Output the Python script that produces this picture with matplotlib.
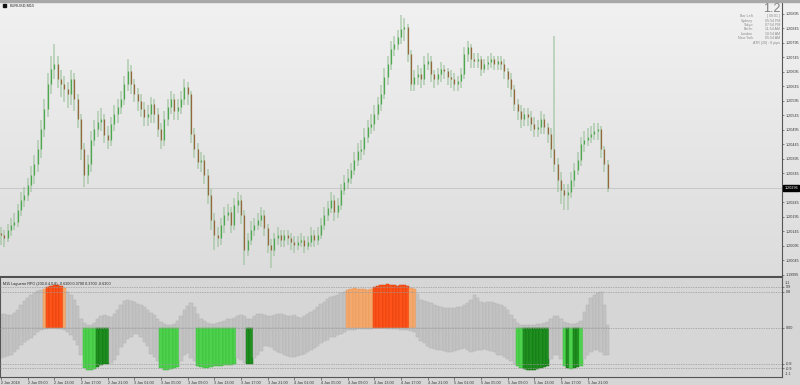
import matplotlib
matplotlib.use("Agg")
import matplotlib.pyplot as plt
import numpy as np
from matplotlib.colors import LinearSegmentedColormap

plt.rcParams['font.family'] = ['Liberation Sans', 'DejaVu Sans']

# EURUSD 30-minute bars from 2 Jan 2018 05:00, prices in pips above 1.20000
close_pips = [13.3, 12.3, 15.1, 16.8, 17.8, 22.0, 25.5, 27.2, 30.6, 34.1,
              37.6, 42.8, 49.7, 56.6, 65.2, 70.4, 72.2, 67.0, 65.2, 63.5,
              61.8, 67.0, 60.1, 53.1, 42.8, 34.1, 37.6, 46.2, 49.7, 52.4,
              53.1, 47.9, 46.2, 51.4, 54.9, 57.3, 60.1, 65.2, 69.7, 65.2,
              61.8, 59.4, 56.6, 53.8, 54.9, 58.3, 54.9, 49.7, 46.2, 53.1,
              57.3, 60.1, 55.9, 57.3, 60.1, 64.2, 61.8, 48.0, 42.8, 38.6,
              39.3, 34.1, 27.2, 18.5, 13.3, 12.3, 16.8, 20.3, 21.3, 16.8,
              23.7, 25.5, 20.3, 8.2, 11.6, 15.1, 16.8, 18.5, 20.3, 15.8,
              9.9, 8.2, 12.3, 13.3, 11.6, 13.3, 12.3, 10.9, 9.9, 10.9,
              11.6, 9.5, 10.9, 13.3, 11.6, 13.3, 16.8, 20.3, 22.7, 25.5,
              21.3, 23.7, 28.9, 31.7, 33.1, 35.8, 39.3, 42.1, 42.8, 46.9,
              50.4, 51.4, 54.9, 58.3, 61.8, 67.7, 72.2, 77.4, 79.1, 81.5,
              84.3, 85.0, 75.6, 65.2, 67.7, 68.7, 67.0, 72.2, 73.2, 68.7,
              67.0, 68.7, 70.4, 69.7, 67.7, 67.0, 65.2, 66.2, 68.7, 75.6,
              78.1, 73.9, 73.2, 73.9, 70.4, 72.2, 72.8, 73.9, 72.2, 73.2,
              72.2, 69.7, 67.0, 63.5, 58.3, 55.9, 53.1, 54.9, 53.8, 51.4,
              49.7, 50.4, 53.1, 50.4, 48.0, 42.8, 37.6, 32.4, 28.9, 27.2,
              28.2, 32.4, 35.8, 39.3, 44.5, 46.2, 46.9, 48.0, 49.0, 49.7,
              42.8, 37.6, 29.6]
high_pips = [16, 15, 17, 19, 21, 24, 28, 30, 33, 37,
             41, 46, 53, 60, 69, 75, 79, 75, 70, 68,
             66, 70, 69, 62, 55, 45, 41, 49, 53, 56,
             57, 55, 51, 54, 58, 60, 63, 68, 74, 72,
             67, 64, 62, 59, 58, 61, 60, 57, 52, 56,
             60, 63, 62, 60, 63, 67, 66, 63, 50, 45,
             42, 41, 36, 29, 21, 16, 19, 23, 24, 23,
             26, 28, 27, 22, 14, 18, 19, 21, 23, 22,
             17, 12, 14, 16, 15, 15, 15, 14, 13, 13,
             14, 13, 13, 16, 15, 16, 19, 23, 25, 28,
             27, 26, 31, 34, 36, 38, 42, 45, 46, 50,
             53, 55, 58, 61, 65, 71, 75, 80, 82, 84,
             89, 88, 86, 77, 70, 72, 71, 75, 76, 75,
             70, 71, 73, 72, 71, 70, 69, 68, 71, 78,
             80, 79, 76, 76, 75, 74, 75, 76, 75, 75,
             75, 74, 71, 69, 65, 60, 58, 57, 57, 56,
             54, 53, 56, 55, 52, 50, 82, 40, 35, 31,
             31, 35, 38, 42, 47, 49, 50, 51, 52, 52,
             51, 44, 39]
low_pips = [10, 9, 11, 13, 15, 16, 20, 23, 25, 28,
            31, 35, 40, 47, 54, 62, 67, 64, 61, 59,
            57, 58, 56, 50, 39, 30, 31, 35, 44, 47,
            49, 45, 43, 44, 49, 52, 55, 58, 63, 62,
            59, 56, 54, 51, 51, 52, 52, 47, 43, 44,
            51, 55, 53, 53, 55, 58, 58, 45, 40, 36,
            35, 31, 24, 15, 8, 9, 10, 14, 18, 14,
            15, 21, 17, 3, 6, 10, 13, 15, 16, 13,
            7, 2, 6, 10, 9, 9, 10, 8, 7, 8,
            9, 7, 8, 9, 9, 10, 12, 15, 18, 21,
            18, 19, 22, 27, 29, 31, 34, 37, 39, 41,
            45, 48, 49, 53, 56, 60, 65, 70, 75, 77,
            79, 80, 73, 63, 63, 65, 64, 65, 70, 66,
            64, 65, 66, 67, 65, 64, 63, 63, 64, 67,
            73, 71, 71, 71, 68, 69, 70, 71, 70, 70,
            70, 67, 64, 61, 56, 53, 50, 51, 51, 49,
            47, 47, 48, 48, 45, 40, 35, 28, 24, 22,
            22, 26, 30, 34, 37, 42, 44, 45, 46, 46,
            40, 35, 28]

# Laguerre RPO histogram, upper and lower legs
rpo_up = [0.30, 0.29, 0.28, 0.27, 0.32, 0.40, 0.50, 0.58, 0.65, 0.72,
          0.77, 0.81, 0.84, 0.86, 0.90, 0.92, 0.95, 0.94, 0.92, 0.87,
          0.78, 0.72, 0.62, 0.48, 0.20, 0.10, 0.05, 0.05, 0.10, 0.18,
          0.25, 0.27, 0.25, 0.23, 0.30, 0.40, 0.50, 0.58, 0.61, 0.60,
          0.56, 0.53, 0.50, 0.45, 0.40, 0.33, 0.27, 0.20, 0.12, 0.08,
          0.06, 0.06, 0.08, 0.15, 0.25, 0.38, 0.48, 0.54, 0.45, 0.30,
          0.20, 0.15, 0.10, 0.08, 0.08, 0.10, 0.12, 0.15, 0.18, 0.20,
          0.22, 0.25, 0.28, 0.25, 0.20, 0.20, 0.25, 0.30, 0.30, 0.28,
          0.25, 0.25, 0.27, 0.30, 0.30, 0.28, 0.25, 0.25, 0.27, 0.23,
          0.22, 0.25, 0.30, 0.34, 0.40, 0.46, 0.52, 0.57, 0.63, 0.67,
          0.70, 0.73, 0.76, 0.79, 0.84, 0.86, 0.87, 0.86, 0.86, 0.85,
          0.84, 0.86, 0.91, 0.93, 0.94, 0.95, 0.96, 0.95, 0.94, 0.93,
          0.94, 0.95, 0.93, 0.88, 0.86, 0.75, 0.62, 0.58, 0.56, 0.55,
          0.50, 0.47, 0.45, 0.44, 0.43, 0.43, 0.44, 0.45, 0.46, 0.50,
          0.55, 0.62, 0.72, 0.65, 0.56, 0.55, 0.56, 0.56, 0.55, 0.53,
          0.50, 0.45, 0.38, 0.28, 0.18, 0.10, 0.06, 0.05, 0.05, 0.06,
          0.06, 0.08, 0.08, 0.10, 0.12, 0.20, 0.25, 0.25, 0.20, 0.12,
          0.10, 0.08, 0.08, 0.10, 0.15, 0.35, 0.50, 0.65, 0.73, 0.77,
          0.78, 0.50, 0.05]
rpo_dn = [-0.68, -0.66, -0.64, -0.62, -0.55, -0.47, -0.39, -0.33, -0.28, -0.24,
          -0.17, -0.11, -0.06, -0.04, -0.03, -0.02, -0.02, -0.03, -0.04, -0.06,
          -0.10, -0.17, -0.28, -0.39, -0.60, -0.90, -0.95, -0.95, -0.93, -0.88,
          -0.84, -0.82, -0.80, -0.78, -0.72, -0.60, -0.44, -0.34, -0.26, -0.22,
          -0.15, -0.14, -0.22, -0.32, -0.42, -0.58, -0.66, -0.74, -0.90, -0.95,
          -0.95, -0.93, -0.90, -0.88, -0.75, -0.60, -0.57, -0.68, -0.75, -0.85,
          -0.88, -0.90, -0.90, -0.88, -0.86, -0.85, -0.85, -0.84, -0.84, -0.84,
          -0.82, -0.68, -0.72, -0.78, -0.82, -0.82, -0.68, -0.60, -0.52, -0.42,
          -0.40, -0.44, -0.50, -0.54, -0.57, -0.60, -0.63, -0.66, -0.66, -0.63,
          -0.60, -0.58, -0.55, -0.50, -0.45, -0.40, -0.35, -0.30, -0.27, -0.22,
          -0.20, -0.17, -0.14, -0.10, -0.06, -0.05, -0.05, -0.04, -0.04, -0.03,
          -0.03, -0.03, -0.02, -0.02, -0.02, -0.02, -0.03, -0.03, -0.04, -0.04,
          -0.05, -0.05, -0.06, -0.08, -0.10, -0.20, -0.30, -0.35, -0.40, -0.45,
          -0.47, -0.50, -0.50, -0.52, -0.55, -0.55, -0.53, -0.50, -0.48, -0.45,
          -0.50, -0.55, -0.52, -0.50, -0.50, -0.48, -0.50, -0.52, -0.55, -0.60,
          -0.62, -0.66, -0.70, -0.75, -0.80, -0.85, -0.90, -0.93, -0.95, -0.95,
          -0.95, -0.93, -0.90, -0.88, -0.85, -0.70, -0.62, -0.60, -0.70, -0.85,
          -0.90, -0.92, -0.90, -0.88, -0.85, -0.70, -0.60, -0.55, -0.50, -0.50,
          -0.55, -0.60, -0.62]
# colour state runs: n neutral, o/r weak/strong up, l/d weak/strong down
rpo_runs = [("n", 13), ("o", 1), ("r", 5), ("o", 1), ("n", 5), ("l", 4), ("d", 4),
            ("n", 15), ("l", 6), ("n", 5), ("l", 12), ("n", 3), ("d", 2), ("n", 28),
            ("o", 8), ("r", 11), ("o", 2), ("n", 30), ("l", 2), ("d", 8), ("n", 4),
            ("l", 1), ("d", 1), ("l", 1), ("d", 2), ("l", 1), ("n", 8)]

time_labels = ["2 Jan 2018", "2 Jan 09:00", "2 Jan 13:00", "2 Jan 17:00", "2 Jan 21:00",
               "3 Jan 01:00", "3 Jan 05:00", "3 Jan 09:00", "3 Jan 13:00", "3 Jan 17:00",
               "3 Jan 21:00", "4 Jan 01:00", "4 Jan 05:00", "4 Jan 09:00", "4 Jan 13:00",
               "4 Jan 17:00", "4 Jan 21:00", "5 Jan 01:00", "5 Jan 05:00", "5 Jan 09:00",
               "5 Jan 13:00", "5 Jan 17:00", "5 Jan 21:00"]
price_ticks = [-0.5, 4.5, 9.5, 14.5, 19.5, 24.5, 34.5, 39.5, 44.5, 49.5, 54.5,
               59.5, 64.5, 69.5, 74.5, 79.5, 84.5, 89.5]
rpo_levels = [0.9, 0.8, 0.0, -0.8, -0.9]
rpo_level_labels = ["0.9", "0.8", "0.00", "-0.8", "-0.9"]

info_names = ["Bar Left", "Sydney", "Tokyo", "Berlin", "London", "New York"]
info_values = ["[ 00:01 ]", "05:54 PM", "07:54 PM", "11:54 AM", "10:54 AM", "05:54 AM"]

W, H = 800, 385


def box(x0, y0, x1, y1):
    return [x0 / W, 1 - y1 / H, (x1 - x0) / W, (y1 - y0) / H]


fig = plt.figure(figsize=(8, 3.85), dpi=100)
fig.patch.set_facecolor("#d6d6d6")

bg = fig.add_axes(box(0, 2, 800, 277), zorder=0)
bg.imshow(np.linspace(0, 1, 256).reshape(-1, 1), aspect="auto", extent=[0, 1, 0, 1],
          cmap=LinearSegmentedColormap.from_list("bg", ["#f1f1f1", "#dcdcdc"]))
bg.axis("off")

ax = fig.add_axes(box(0, 2, 782, 277), zorder=1)
ax.patch.set_alpha(0)
n = len(close_pips)
x = np.arange(n)
open_pips = [close_pips[0] + 0.7] + close_pips[:-1]
xmin, xmax = -0.3, 234.3

for i in range(n):
    up = close_pips[i] >= open_pips[i]
    body = "#4fa84f" if up else "#94683c"
    ax.vlines(i, low_pips[i], high_pips[i], color="#9cc29c", lw=1.1, alpha=0.75, zorder=2)
    lo_b, hi_b = sorted([open_pips[i], close_pips[i]])
    ax.vlines(i, lo_b, max(hi_b, lo_b + 0.3), color=body, lw=0.9, zorder=3)

last = close_pips[-1]
ax.axhline(last, color="#c4c4c4", lw=0.6, zorder=1)
ax.set_xlim(xmin, xmax)
ax.set_ylim(-1.19, 93.6)
ax.yaxis.tick_right()
ax.set_yticks(price_ticks)
ax.set_yticklabels(["%.5f" % (1.2 + p / 10000) for p in price_ticks])
ax.tick_params(axis="y", labelsize=2.7, length=1.5, width=0.4, pad=1, colors="#333333")
ax.set_xticks([])
ax.text(1.003, last, "%.5f" % (1.2 + last / 10000), transform=ax.get_yaxis_transform(),
        fontsize=2.7, color="white", va="center", ha="left",
        bbox=dict(boxstyle="square,pad=0.25", fc="black", ec="black"))
for s in ["top", "left"]:
    ax.spines[s].set_visible(False)
ax.spines["right"].set_color("#555555")
ax.spines["right"].set_linewidth(0.8)
ax.spines["bottom"].set_color("#505050")
ax.spines["bottom"].set_linewidth(1.5)

# indicator panel
ax2 = fig.add_axes(box(0, 278, 782, 377), zorder=1)
ax2.set_facecolor("#d6d6d6")
state = "".join(c * k for c, k in rpo_runs)
up_fill = {"o": "#f5a86c", "r": "#ff5218"}
up_edge = {"o": "#e89858", "r": "#d8400c"}
dn_fill = {"l": "#4cd24c", "d": "#1f8f1f"}
dn_edge = {"l": "#3cba3c", "d": "#137213"}
ax2.bar(x, rpo_up, width=1.0, color=[up_fill.get(s, "#c3c3c3") for s in state],
        edgecolor=[up_edge.get(s, "#b4b4b4") for s in state], linewidth=0.35, zorder=2)
ax2.bar(x, rpo_dn, width=1.0, color=[dn_fill.get(s, "#c3c3c3") for s in state],
        edgecolor=[dn_edge.get(s, "#b4b4b4") for s in state], linewidth=0.35, zorder=2)
for lv in rpo_levels:
    ax2.axhline(lv, color="#9a9a9a", lw=0.5, ls=(0, (2, 1.5)), zorder=3)
ax2.set_xlim(xmin, xmax)
ax2.set_ylim(-1.1, 1.1)
ax2.yaxis.tick_right()
ax2.set_yticks(rpo_levels)
ax2.set_yticklabels(rpo_level_labels)
ax2.tick_params(axis="y", labelsize=2.7, length=1.5, width=0.4, pad=1, colors="#333333")
ax2.text(1.003, 1.0, "1.1", transform=ax2.get_yaxis_transform(), fontsize=2.7,
         color="#333333", va="center", ha="left")
ax2.text(1.003, -1.03, "-1.1", transform=ax2.get_yaxis_transform(), fontsize=2.7,
         color="#333333", va="center", ha="left")
ax2.set_xticks(np.arange(len(time_labels)) * 8)
ax2.set_xticklabels(time_labels)
ax2.tick_params(axis="x", labelsize=2.7, length=2, width=0.4, pad=1.2, colors="#333333")
for lab in ax2.get_xticklabels():
    lab.set_horizontalalignment("left")
for s in ["top"]:
    ax2.spines[s].set_visible(False)
for s in ["right", "bottom", "left"]:
    ax2.spines[s].set_color("#555555")
    ax2.spines[s].set_linewidth(0.8)
ax2.text(0.004, 0.96, "M15 Laguerre RPO (200,0.4,0.8) -0.6300 0.3700 0.3700 -0.6300",
         transform=ax2.transAxes, fontsize=2.7, color="#222222", va="top", ha="left")

# chrome: top border, symbol title, info block
fig.patches.append(plt.Rectangle((0, 1 - 2 / H), 1, 2 / H, transform=fig.transFigure,
                                 color="#a8a8a8", zorder=5))
fig.patches.append(plt.Rectangle((3 / W, 1 - 6.5 / H), 3 / W, 2.5 / H,
                                 transform=fig.transFigure, color="#111111", zorder=5))
fig.text(10 / W, 1 - 5.3 / H, "EURUSD,M15", fontsize=2.8, color="#222222",
         va="center", ha="left")
fig.text(780 / W, 1 - 2.5 / H, "1.2", fontsize=9, color="#808080", va="top", ha="right")
for k, (nm, vl) in enumerate(zip(info_names, info_values)):
    yy = 1 - (16.2 + 4.4 * k) / H
    fig.text(753 / W, yy, nm, fontsize=2.6, color="#8a8a8a", va="center", ha="right")
    fig.text(780 / W, yy, vl, fontsize=2.6, color="#8a8a8a", va="center", ha="right")
fig.text(780 / W, 1 - 42.7 / H, "ATR (20) : 8 pips", fontsize=2.6, color="#8a8a8a",
         va="center", ha="right")

fig.savefig("out.png", dpi=100, facecolor=fig.get_facecolor())
